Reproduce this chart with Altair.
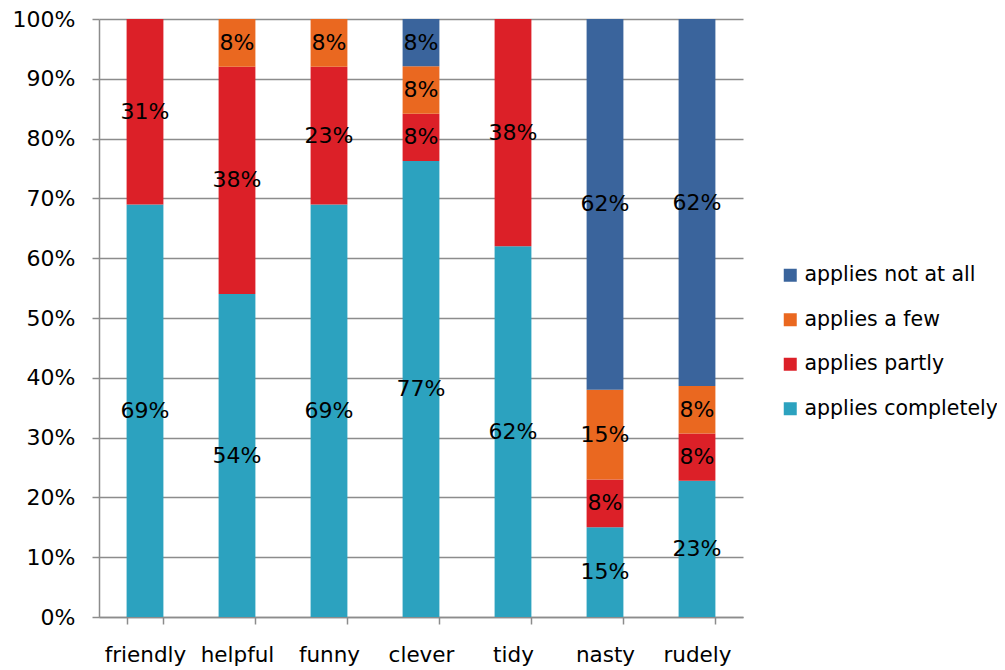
import altair as alt
import pandas as pd

categories = ["friendly", "helpful", "funny", "clever", "tidy", "nasty", "rudely"]
series = ["applies completely", "applies partly", "applies a few", "applies not at all"]
completely = [69, 54, 69, 77, 62, 15, 23]
partly = [31, 38, 23, 8, 38, 8, 8]
few = [0, 8, 8, 8, 0, 15, 8]
not_at_all = [0, 0, 0, 8, 0, 62, 62]
colors = {"applies not at all": "#3A649C", "applies a few": "#EA6820",
          "applies partly": "#DC2028", "applies completely": "#2CA2BF"}

rows = []
for i, c in enumerate(categories):
    for k, (s, vals) in enumerate(zip(series, [completely, partly, few, not_at_all])):
        if vals[i] > 0:
            rows.append({"category": c, "series": s, "value": vals[i], "rank": k})
df = pd.DataFrame(rows)

FONT = "DejaVu Sans"
legend_order = ["applies not at all", "applies a few", "applies partly", "applies completely"]

base = alt.Chart(df)

x = alt.X("category:N", sort=categories, title=None,
          scale=alt.Scale(paddingInner=0.6, paddingOuter=0.3),
          axis=alt.Axis(labelAngle=0, labelFontSize=21.5, labelColor="#000000", labelFont=FONT,
                        labelPadding=20, tickBand="extent", tickSize=7, tickColor="#8c8c8c",
                        tickWidth=1.5, domainColor="#8c8c8c", domainWidth=1.5, grid=False))

bars = base.mark_bar().encode(
    x=x,
    y=alt.Y("value:Q", stack="normalize", title=None,
            scale=alt.Scale(domain=[0, 1], nice=False),
            axis=alt.Axis(format="%", values=[i / 10 for i in range(11)], labelFontSize=22,
                          labelColor="#000000", labelFont=FONT, labelPadding=17,
                          tickSize=7, tickColor="#8c8c8c", tickWidth=1.5,
                          domainColor="#8c8c8c", domainWidth=1.5,
                          gridColor="#8c8c8c", gridWidth=1.5)),
    color=alt.Color("series:N",
                    scale=alt.Scale(domain=legend_order, range=[colors[s] for s in legend_order]),
                    legend=alt.Legend(title=None, orient="none", legendX=681, legendY=246,
                                      symbolType="square", symbolSize=169, symbolStrokeWidth=0,
                                      labelFontSize=20.5, labelFont=FONT, labelColor="#000000",
                                      labelLimit=400, rowPadding=23.5, labelOffset=4)),
    order=alt.Order("rank:Q", sort="ascending"),
)

labels = base.transform_stack(
    stack="value", groupby=["category"], as_=["v0", "v1"], offset="normalize",
    sort=[alt.SortField("rank", order="ascending")]
).transform_calculate(
    mid="(datum.v0 + datum.v1) / 2", label="datum.value + '%'"
).mark_text(fontSize=22, font=FONT, color="#000000").encode(
    x=alt.X("category:N", sort=categories),
    y=alt.Y("mid:Q"),
    text="label:N",
)

chart = alt.layer(bars, labels).properties(
    width=644, height=598,
    autosize=alt.AutoSizeParams(type="none"),
    padding={"left": 91, "top": 11, "right": 254, "bottom": 52},
).configure_view(stroke=None).configure_axis(labelFont=FONT)

chart.save("out.html", embed_options={"renderer": "svg", "actions": False})
